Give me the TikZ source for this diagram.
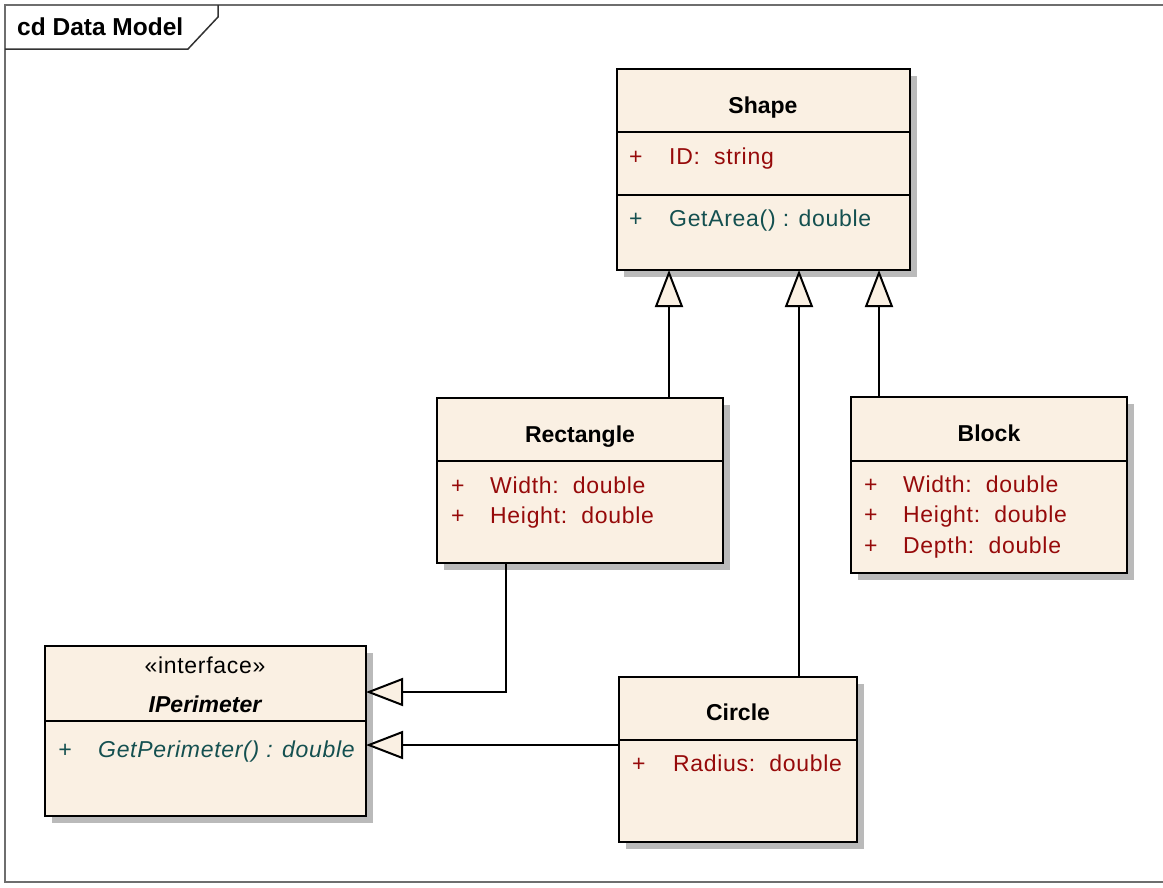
\documentclass[tikz,border=0pt]{standalone}
\usepackage{fontspec}
\setmainfont{Liberation Sans}
\newfontfamily\memfont[LetterSpace=3]{Liberation Sans}
\usetikzlibrary{arrows.meta,shadows}
\definecolor{umlfill}{RGB}{250,240,227}
\definecolor{attrcol}{RGB}{150,10,10}
\definecolor{methcol}{RGB}{20,80,80}
\definecolor{framecol}{RGB}{110,110,110}
\newcommand\umlfs{\fontsize{23}{27}\selectfont}
\tikzset{
  cls/.style={draw=black, line width=2.7pt, fill=umlfill, anchor=north west, inner sep=0pt, outer sep=0pt,
    drop shadow={shadow xshift=7pt, shadow yshift=-7pt, fill=black!27, opacity=1}},
  sep/.style={line width=2pt},
  title/.style={anchor=base, inner sep=0pt, font=\umlfs\bfseries},
  attr/.style={anchor=base west, inner sep=0pt, font=\umlfs\memfont, text=attrcol},
  meth/.style={anchor=base west, inner sep=0pt, font=\umlfs\memfont, text=methcol},
  gen/.style={line width=2pt, -{Triangle[length=37pt,width=28pt,fill=umlfill]}},
}
\begin{document}
\begin{tikzpicture}[x=1pt,y=-1pt]
\useasboundingbox (0,0) rectangle (1163,887);
% frame
\draw[framecol, line width=1.5pt] (1163,5) -- (5,5) -- (5,882) -- (1163,882);
\draw[black!80, line width=1.5pt] (5,49) -- (188,49) -- (218,17) -- (218,5);
\node[anchor=base west, inner sep=0pt, font=\fontsize{24.5}{28}\selectfont\bfseries] (frametitle) at (17,35) {cd Data Model};

% Shape
\node[cls, minimum width=293pt, minimum height=201pt] (shape) at (617,69) {};
\draw[sep] (shape.west |- 0,132) -- (shape.east |- 0,132);
\draw[sep] (shape.west |- 0,195) -- (shape.east |- 0,195);
\node[title] (shapename) at (763,113) {Shape};
\node[attr] (shapep1) at (629,164) {+};
\node[attr] (shapea1) at (669,164) {ID:\ \ string};
\node[meth] (shapep2) at (629,226) {+};
\node[meth] (shapem1) at (669,226) {GetArea() : double};

% Rectangle
\node[cls, minimum width=286pt, minimum height=165pt] (rect) at (437,398) {};
\draw[sep] (rect.west |- 0,461) -- (rect.east |- 0,461);
\node[title] (rectname) at (580,442) {Rectangle};
\node[attr] (rectp1) at (451,493) {+};
\node[attr] (recta1) at (490,493) {Width:\ \ double};
\node[attr] (rectp2) at (451,523) {+};
\node[attr] (recta2) at (490,523) {Height:\ \ double};

% Block
\node[cls, minimum width=276pt, minimum height=176pt] (block) at (851,397) {};
\draw[sep] (block.west |- 0,461) -- (block.east |- 0,461);
\node[title] (blockname) at (989,441) {Block};
\node[attr] (blockp1) at (864,492) {+};
\node[attr] (blocka1) at (903,492) {Width:\ \ double};
\node[attr] (blockp2) at (864,522) {+};
\node[attr] (blocka2) at (903,522) {Height:\ \ double};
\node[attr] (blockp3) at (864,553) {+};
\node[attr] (blocka3) at (903,553) {Depth:\ \ double};

% Circle
\node[cls, minimum width=238pt, minimum height=165pt] (circ) at (619,677) {};
\draw[sep] (circ.west |- 0,740) -- (circ.east |- 0,740);
\node[title] (circname) at (738,720) {Circle};
\node[attr] (circp1) at (632,771) {+};
\node[attr] (circa1) at (673,771) {Radius:\ \ double};

% IPerimeter
\node[cls, minimum width=321pt, minimum height=170pt] (iper) at (45,646) {};
\draw[sep] (iper.west |- 0,721) -- (iper.east |- 0,721);
\node[anchor=base, inner sep=0pt, font=\umlfs\memfont] (ipster) at (205,673) {«interface»};
\node[title, font=\umlfs\bfseries\itshape] (ipername) at (205,712) {IPerimeter};
\node[meth, font=\umlfs\memfont\itshape] (iperp1) at (58,757) {+};
\node[meth, font=\umlfs\memfont\itshape] (iperm1) at (98,757) {GetPerimeter() : double};

% connectors
\coordinate (c1) at (669,0);
\coordinate (c2) at (799,0);
\coordinate (c3) at (879,0);
\coordinate (j) at (506,692);
\coordinate (k) at (0,745);
\draw[gen] (rect.north -| c1) -- (shape.south -| c1);
\draw[gen] (circ.north -| c2) -- (shape.south -| c2);
\draw[gen] (block.north -| c3) -- (shape.south -| c3);
\draw[gen] (rect.south -| j) -- (j) -- (iper.east |- j);
\draw[gen] (circ.west |- k) -- (iper.east |- k);
\end{tikzpicture}
\end{document}
